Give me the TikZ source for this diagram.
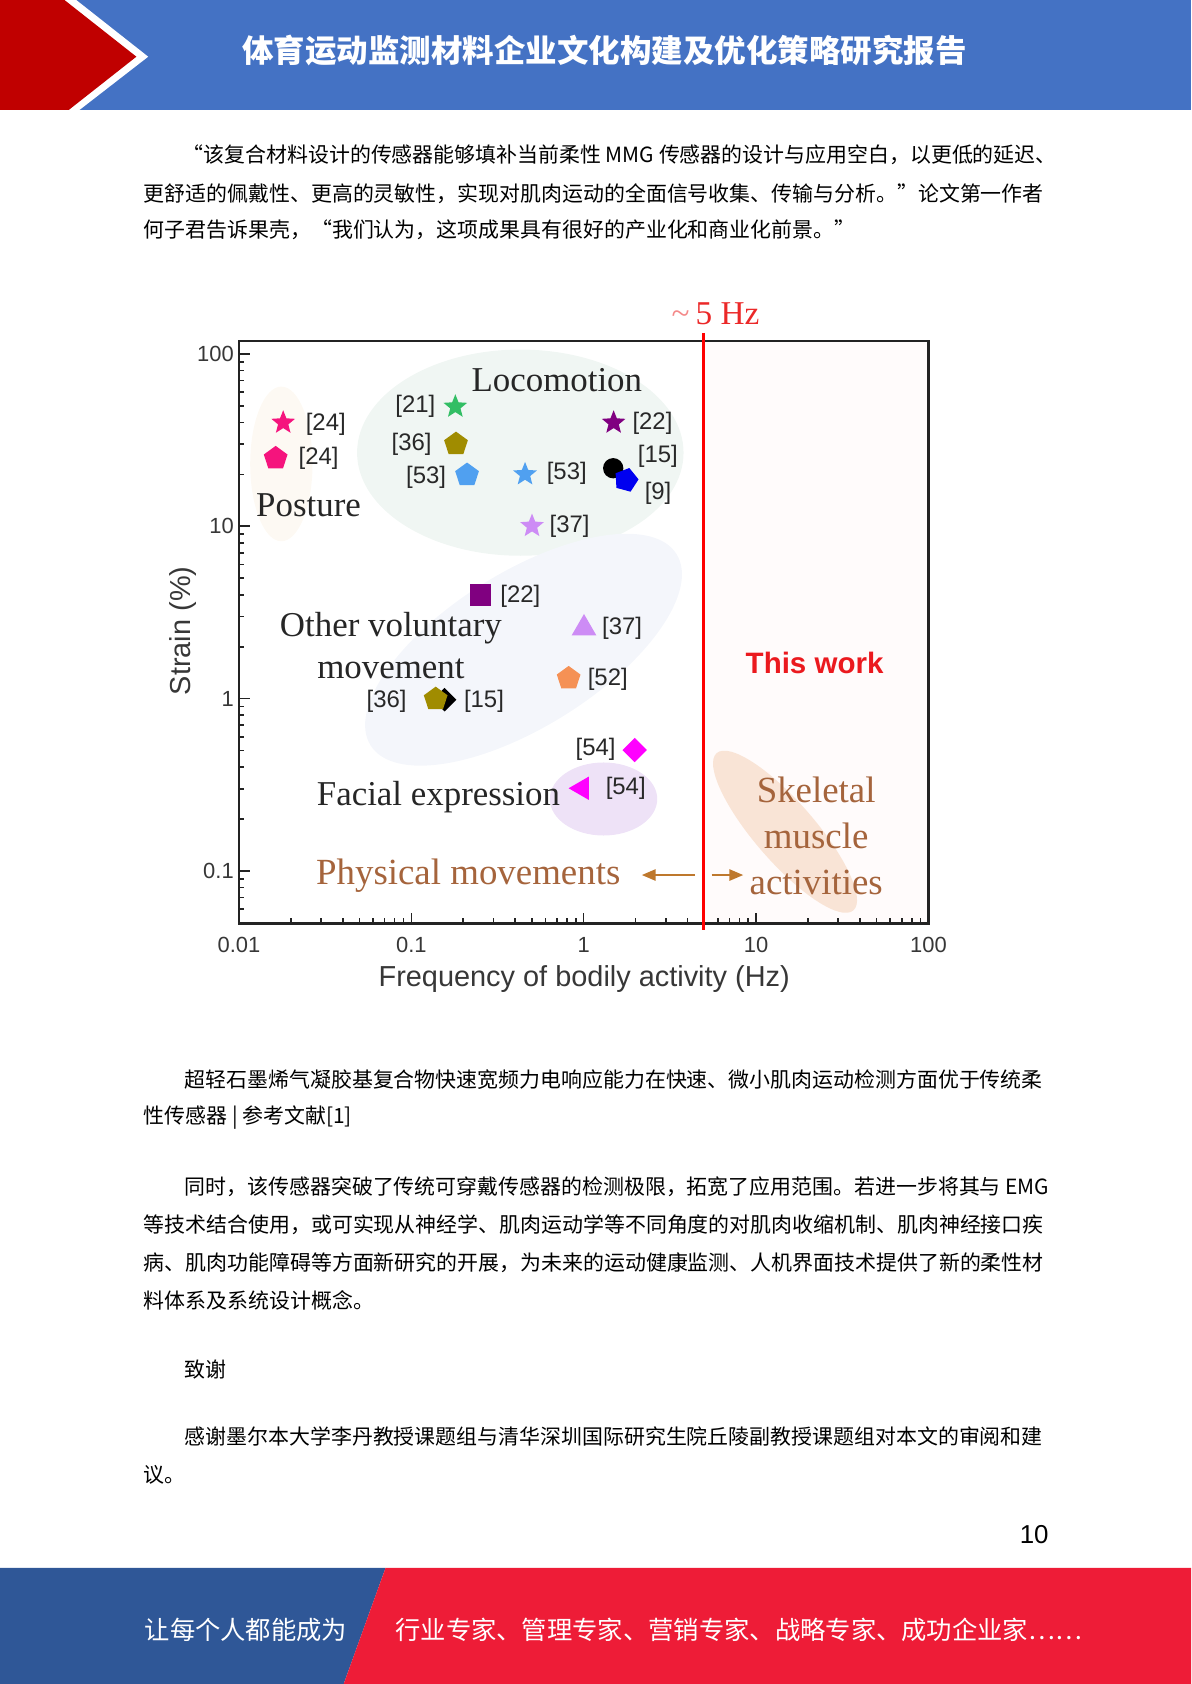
\documentclass[tikz,border=0pt]{standalone}
\usepackage{fontspec}
\setmainfont{Liberation Serif}
\setsansfont{Liberation Sans}
\newfontfamily\cjk{Noto Sans CJK SC}
\usepackage{xcolor}
\usepackage{tikz}
\usetikzlibrary{shapes.geometric,arrows.meta}

\definecolor{hdrblue}{RGB}{68,114,196}
\definecolor{hdrred}{RGB}{192,0,0}
\definecolor{ftblue}{RGB}{47,87,151}
\definecolor{ftred}{RGB}{238,28,55}
\definecolor{hotpink}{RGB}{245,20,125}
\definecolor{grn}{RGB}{50,190,100}
\definecolor{olive}{RGB}{160,140,0}
\definecolor{skyblue}{RGB}{80,160,240}
\definecolor{purp}{RGB}{128,0,128}
\definecolor{lilac}{RGB}{205,140,245}
\definecolor{orng}{RGB}{245,145,85}
\definecolor{mgnt}{RGB}{255,0,255}
\definecolor{pblue}{RGB}{0,0,240}
\definecolor{posfill}{RGB}{253,249,243}
\definecolor{locofill}{RGB}{240,246,243}
\definecolor{othfill}{RGB}{244,246,251}
\definecolor{facfill}{RGB}{238,226,247}
\definecolor{skelfill}{RGB}{249,228,214}
\definecolor{workfill}{RGB}{255,251,251}
\definecolor{refgray}{RGB}{40,40,40}
\definecolor{axgray}{RGB}{55,55,55}
\definecolor{framegray}{RGB}{35,35,35}
\definecolor{brntext}{RGB}{165,100,60}
\definecolor{brnarrow}{RGB}{190,120,45}
\definecolor{workred}{RGB}{235,25,30}
\definecolor{hzred}{RGB}{235,40,40}

\begin{document}
\begin{tikzpicture}[x=0.018936cm, y=-0.018936cm,
    body/.style={anchor=west, inner sep=0pt, font=\cjk\fontsize{10.5}{12}\selectfont},
    foot/.style={anchor=west, inner sep=0pt, text=white, font=\cjk\fontsize{12.7}{15}\selectfont},
    mk/.style={inner sep=0pt, draw=none},
    star5/.style={mk, star, star points=5, star point ratio=2.3, minimum size=12.5pt},
    pent/.style={mk, regular polygon, regular polygon sides=5, minimum size=12.5pt},
    ref/.style={inner sep=0pt, text=refgray, font=\sffamily\fontsize{12}{14}\selectfont},
    zone/.style={inner sep=0pt, text=black!85, font=\rmfamily\fontsize{17.5}{21.3}\selectfont},
    brn/.style={inner sep=0pt, text=brntext, font=\rmfamily\fontsize{18.5}{23.2}\selectfont},
    brarr/.style={draw=brnarrow, line width=1.3pt, -{Triangle[length=7pt,width=5.5pt]}},
    tk/.style={line width=0.8pt, draw=framegray},
    tklbl/.style={inner sep=0pt, text=axgray, font=\sffamily\fontsize{11}{13}\selectfont},
    axtitle/.style={inner sep=0pt, text=axgray, font=\sffamily\fontsize{14.5}{17}\selectfont}]
\useasboundingbox (0,0) rectangle (1109.05,1568.1);

% header band
\fill[hdrblue] (0,0) rectangle (1109.05,102.4);
\fill[white] (0,0) -- (71,0) -- (138,52.8) -- (74,102.4) -- (0,102.4) -- cycle;
\fill[hdrred] (0,0) -- (60,0) -- (127,52.8) -- (64,102.4) -- (0,102.4) -- cycle;
\node[inner sep=0pt, text=white, font=\cjk\bfseries\fontsize{15.8}{18}\selectfont] (title) at (563,46.6) {体育运动监测材料企业文化构建及优化策略研究报告};

% text above the chart
\node[body] (p1a) at (169.7,144.3) {“该复合材料设计的传感器能够填补当前柔性 MMG 传感器的设计与应用空白，以更低的延迟、};
\node[body] (p1b) at (133.5,180) {更舒适的佩戴性、更高的灵敏性，实现对肌肉运动的全面信号收集、传输与分析。”论文第一作者};
\node[body] (p1c) at (133.5,214.2) {何子君告诉果壳，“我们认为，这项成果具有很好的产业化和商业化前景。”};

% shaded groups
\fill[posfill] (262,432) ellipse [x radius=29, y radius=72];
\fill[locofill] (484.5,421.5) ellipse [x radius=152, y radius=96];
\fill[othfill] (487.5,605) ellipse [x radius=168, y radius=72, rotate=32];
\fill[facfill] (562,744) ellipse [x radius=50, y radius=34];
\fill[workfill] (655,317.5) rectangle (864.5,860);
\fill[skelfill] (731,774.5) ellipse [x radius=97, y radius=28, rotate=-49];

% ticks
\foreach \d in {0,...,3}
  \foreach \m in {2,...,9}
    \draw[tk] ({222.5+160.5*(\d+log10(\m))},860) -- ++(0,-5);
\foreach \d in {1,2,3}
  \draw[tk] ({222.5+160.5*\d},860) -- ++(0,-10);
\foreach \d in {-1,0,1}
  \foreach \m in {2,...,9}
    \draw[tk] (222.5,{650.5-160.5*(\d+log10(\m))}) -- ++(5,0);
\foreach \m in {6,...,9}
  \draw[tk] (222.5,{650.5-160.5*(log10(\m)-2)}) -- ++(5,0);
\foreach \d in {-1,0,1,2}
  \draw[tk] (222.5,{650.5-160.5*\d}) -- ++(10,0);
\draw[line width=1.1pt, framegray] (222.5,317.5) rectangle (864.5,860);

% axis labels
\node[tklbl] (x001) at (222.5,880) {0.01};
\node[tklbl] (x01) at (383,880) {0.1};
\node[tklbl] (x1) at (543.5,880) {1};
\node[tklbl] (x10) at (704,880) {10};
\node[tklbl] (x100) at (864.5,880) {100};
\node[tklbl, anchor=east] (y01) at (218,811) {0.1};
\node[tklbl, anchor=east] (y1) at (218,650.5) {1};
\node[tklbl, anchor=east] (y10) at (218,490) {10};
\node[tklbl, anchor=east] (y100) at (218,329.5) {100};
\node[axtitle, anchor=base] (xlab) at (544,919) {Frequency of bodily activity (Hz)};
\node[axtitle, rotate=90] (ylab) at (170.5,587.4) {Strain (\%)};

% 5 Hz limit
\coordinate (hztop) at (655,310);
\coordinate (hzbot) at (655,866);
\draw[red, line width=1.6pt] (hztop) -- (hzbot);
\node[inner sep=0pt, anchor=base west, text=hzred, font=\rmfamily\fontsize{16.7}{20}\selectfont] (hz) at (625,302.6) {{\color{hzred!55}\textasciitilde}\kern3pt5 Hz};

% markers and refs
\node[star5, fill=hotpink] (s24) at (263.7,393.6) {};
\node[ref, anchor=west] (l24a) at (284.4,395) {[24]};
\node[pent, fill=hotpink] (p24) at (256.7,426.8) {};
\node[ref, anchor=west] (l24b) at (277.7,427) {[24]};
\node[star5, fill=grn] (s21) at (424,378.7) {};
\node[ref, anchor=east] (l21) at (405.7,378) {[21]};
\node[pent, fill=olive] (p36) at (424.6,413.5) {};
\node[ref, anchor=east] (l36a) at (402.3,414) {[36]};
\node[pent, fill=skyblue] (p53) at (434.9,442.3) {};
\node[ref, anchor=east] (l53a) at (415.7,444) {[53]};
\node[star5, fill=skyblue] (s53) at (488.9,441.7) {};
\node[ref, anchor=west] (l53b) at (508.8,441) {[53]};
\node[star5, fill=purp] (s22) at (571.4,393.6) {};
\node[ref, anchor=west] (l22a) at (588.6,394) {[22]};
\node[mk, circle, fill=black, minimum size=10.2pt] (c15) at (571,436) {};
\node[pent, fill=pblue, regular polygon rotate=-15] (p9) at (583,447) {};
\node[ref, anchor=west] (l15a) at (593.6,425.3) {[15]};
\node[ref, anchor=west] (l9) at (600,459.4) {[9]};
\node[star5, fill=lilac] (s37) at (495.4,489.8) {};
\node[ref, anchor=west] (l37a) at (511.5,490) {[37]};

\node[mk, rectangle, fill=purp, minimum size=10.8pt] (q22) at (447.3,554) {};
\node[ref, anchor=west] (l22b) at (465.6,555) {[22]};
\node[mk, regular polygon, regular polygon sides=3, fill=lilac, minimum size=14.3pt] (t37) at (543.8,585) {};
\node[ref, anchor=west] (l37b) at (560.4,585) {[37]};
\node[pent, fill=orng] (p52) at (529.5,631.7) {};
\node[ref, anchor=west] (l52) at (547,633) {[52]};
\node[mk, diamond, fill=black, minimum width=12pt, minimum height=12pt] (d15) at (414,651.5) {};
\node[pent, fill=olive] (p36b) at (405.7,651) {};
\node[ref, anchor=east] (l36b) at (379,653) {[36]};
\node[ref, anchor=west] (l15b) at (431.7,653) {[15]};
\node[mk, diamond, fill=mgnt, minimum width=12.4pt, minimum height=12.4pt] (d54) at (591,698.4) {};
\node[ref, anchor=east] (l54a) at (573.6,698) {[54]};
\node[mk, regular polygon, regular polygon sides=3, regular polygon rotate=90, fill=mgnt, minimum size=13.5pt] (t54) at (542,734) {};
\node[ref, anchor=west] (l54b) at (563.7,734) {[54]};

% group names
\node[zone, anchor=base] (post) at (287.3,481) {Posture};
\node[zone, anchor=base] (loco) at (518.5,364.7) {Locomotion};
\node[zone, align=center] (other) at (364,601) {Other voluntary\\movement};
\node[zone, anchor=base] (face) at (408.3,749.6) {Facial expression};
\node[inner sep=0pt, text=workred, font=\sffamily\bfseries\fontsize{14.8}{17}\selectfont, anchor=base] (work) at (758.5,627) {This work};
\node[brn, anchor=base] (phys) at (436,824) {Physical movements};
\node[brn, align=center] (skel) at (760,778.5) {Skeletal\\muscle\\activities};
\coordinate (pmtail) at (647.2,814.8);
\coordinate (pmtip) at (597.5,814.8);
\coordinate (sktail) at (662.7,814.8);
\coordinate (sktip) at (692.2,814.8);
\draw[brarr] (pmtail) -- (pmtip);
\draw[brarr] (sktail) -- (sktip);

% text below the chart
\node[body] (cap1) at (171.6,1005.5) {超轻石墨烯气凝胶基复合物快速宽频力电响应能力在快速、微小肌肉运动检测方面优于传统柔};
\node[body] (cap2) at (133.5,1041) {性传感器 | 参考文献[1]};
\node[body] (p3a) at (171.6,1105) {同时，该传感器突破了传统可穿戴传感器的检测极限，拓宽了应用范围。若进一步将其与 EMG};
\node[body] (p3b) at (133.5,1140.5) {等技术结合使用，或可实现从神经学、肌肉运动学等不同角度的对肌肉收缩机制、肌肉神经接口疾};
\node[body] (p3c) at (133.5,1176) {病、肌肉功能障碍等方面新研究的开展，为未来的运动健康监测、人机界面技术提供了新的柔性材};
\node[body] (p3d) at (133.5,1211) {料体系及系统设计概念。};
\node[body] (ack) at (171.6,1275.5) {致谢};
\node[body] (p4a) at (171.6,1338) {感谢墨尔本大学李丹教授课题组与清华深圳国际研究生院丘陵副教授课题组对本文的审阅和建};
\node[body] (p4b) at (133.5,1373.5) {议。};
\node[inner sep=0pt, font=\sffamily\fontsize{13}{15}\selectfont] (pgno) at (963,1429) {10};

% footer band
\fill[ftblue] (0,1460) -- (359,1460) -- (320,1568.1) -- (0,1568.1) -- cycle;
\fill[ftred] (359,1460) -- (1109.05,1460) -- (1109.05,1568.1) -- (320,1568.1) -- cycle;
\node[foot] (slogan) at (134.4,1518) {让每个人都能成为};
\node[foot] (experts) at (367.8,1518) {行业专家、管理专家、营销专家、战略专家、成功企业家……};
\end{tikzpicture}
\end{document}
